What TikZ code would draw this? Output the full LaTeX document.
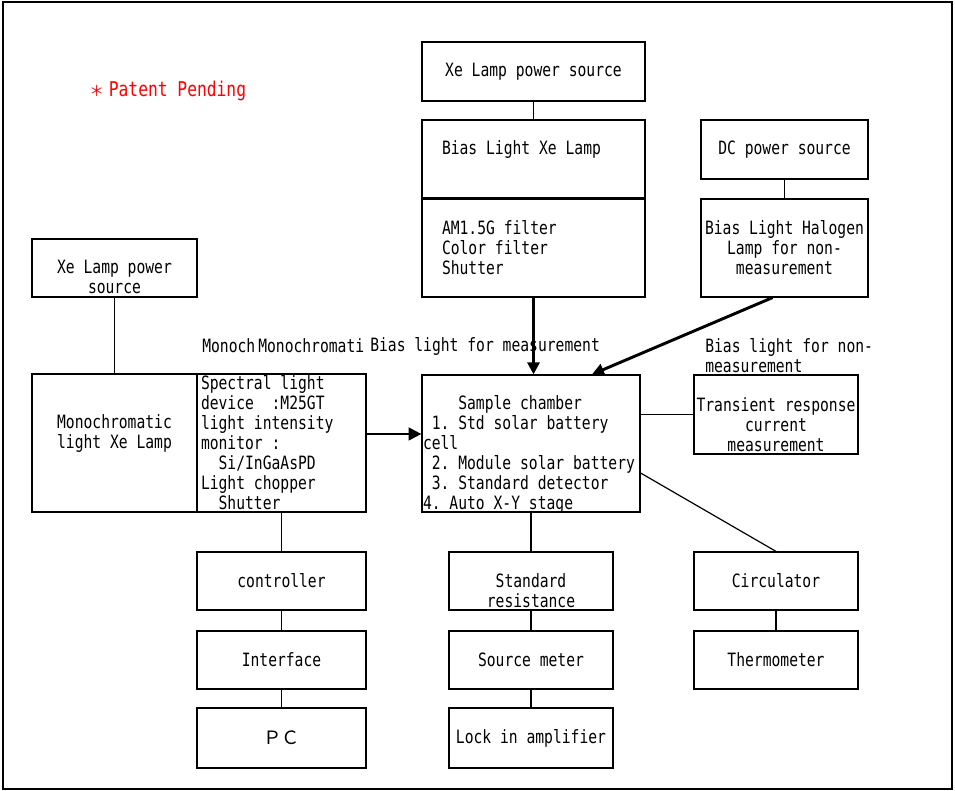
\documentclass[tikz,border=0pt]{standalone}
\usepackage{fontspec}
\setmainfont{DejaVu Sans Mono}[FakeStretch=0.8, WordSpace={1,0,0}]
\newfontfamily\cjk{Noto Sans CJK JP}
\usetikzlibrary{arrows.meta}
\usetikzlibrary{calc}

\begin{document}
\begin{tikzpicture}[x=0.75pt,y=-0.75pt,
  every node/.style={font=\fontsize{13.75pt}{15pt}\selectfont},
  box/.style={draw, line width=0.9pt, inner sep=0pt, align=center},
  wh/.style 2 args={minimum width=#1*0.75pt, minimum height=#2*0.75pt},
  txt/.style={inner sep=0pt, align=center, anchor=center},
  txtl/.style={inner sep=0pt, align=flush left, anchor=center, text width=#1*0.75pt},
  link/.style={line width=0.9pt},
  beam/.style={line width=2.2pt, -{Triangle[length=9pt,width=9pt]}},
  thinbeam/.style={line width=1.5pt, -{Triangle[length=9.5pt,width=9.5pt]}}]
  \useasboundingbox (0,0) rectangle (955,791);
  \draw[line width=1.6pt] (3,2) rectangle (952,789);

  \node[anchor=west, inner sep=0pt, text=red, font=\fontsize{15.26pt}{18pt}\selectfont] (patent) at (89,91) {\makebox[14.7pt][l]{\cjk\fontsize{11pt}{11pt}\selectfont ＊}Patent Pending};

  % bias light column
  \node[box, wh={223}{59}] (xepow) at (533.5,71.5) {Xe Lamp power source};
  \node[box, wh={223}{78}, label={[name=biasxetxt, txtl=183, yshift=6.75pt]center:Bias Light Xe Lamp}] (biasxe) at (533.5,159) {};
  \node[box, wh={223}{98}, align=flush left, text width=183*0.75pt] (filter) at (533.5,248) {AM1.5G filter\\Color filter\\Shutter};
  \node[box, wh={167}{59}] (dcpow) at (784.5,149.5) {DC power source};
  \node[box, wh={167}{98}] (halogen) at (784.5,248) {Bias Light Halogen\\Lamp for non-\\measurement};

  % monochromatic light
  \node[box, wh={165}{58}, label={[name=xepowtxt, txt, yshift=-7pt]center:Xe Lamp power\\source}] (xepow2) at (114.5,268) {};
  \node[box, wh={165}{138}, label={[name=monotxt, txt, yshift=6.75pt]center:Monochromatic\\light Xe Lamp}] (monolamp) at (114.5,443) {};
  \node[box, wh={169}{138}, align=flush left, text width=161*0.75pt] (spectral) at (281.5,443) {Spectral light\\device~~:M25GT\\light intensity\\monitor :\\\phantom{00}Si/InGaAsPD\\Light chopper\\\phantom{00}Shutter};

  % sample chamber
  \node[box, wh={218}{137}, label={[name=chambertxt, txtl=216, yshift=-8.25pt]center:\phantom{0000}Sample chamber\\\phantom{0}1.\phantom{0}Std solar battery\\cell\\\phantom{0}2.\phantom{0}Module solar battery\\\phantom{0}3.\phantom{0}Standard detector\\4.\phantom{0}Auto X-Y stage}] (chamber) at (531,443.5) {};
  \node[box, wh={164}{79}, label={[name=transtxt, txt, yshift=-7.9pt]center:Transient response\\current\\measurement}] (trans) at (776,414.5) {};

  % lower rows
  \node[box, wh={169}{58}] (ctrl) at (281.5,581) {controller};
  \node[box, wh={169}{58}] (iface) at (281.5,660) {Interface};
  \node[box, wh={169}{60}] (pc) at (281.5,738) {{\cjk ＰＣ}};
  \node[box, wh={164}{58}, label={[name=stdrestxt, txt, yshift=-7.5pt]center:Standard\\resistance}] (stdres) at (531,581) {};
  \node[box, wh={164}{58}] (srcmeter) at (531,660) {Source meter};
  \node[box, wh={164}{60}] (lockin) at (531,738) {Lock in amplifier};
  \node[box, wh={164}{58}] (circ) at (776,581) {Circulator};
  \node[box, wh={164}{58}] (thermo) at (776,660) {Thermometer};

  % light labels
  \node[anchor=west, inner sep=0pt] (monoch) at (202,346) {Monoch};
  \node[anchor=west, inner sep=0pt] (monochro) at (258,346) {Monochromati};
  \node[anchor=west, inner sep=0pt] (biasmeas) at (370,346) {Bias light for measurement};
  \node[anchor=west, inner sep=0pt, align=left] (biasnon) at (705,356) {Bias light for non-\\measurement};

  % wiring
  \foreach \a/\b in {xepow/biasxe, dcpow/halogen, xepow2/monolamp, spectral/ctrl, ctrl/iface, iface/pc, chamber/stdres, stdres/srcmeter, srcmeter/lockin, circ/thermo}
    \draw[link] (\a.south) -- (\a.south |- \b.north);
  \draw[link] (trans.west) -- (trans.west -| chamber.east);
  \draw[link] ($(chamber.east)+(0,29.5)$) -- (circ.north);

  % light paths
  \coordinate (monoout) at ($(spectral.east)+(0,-9)$);
  \draw[beam] (filter.south) -- (filter.south |- chamber.north);
  \draw[beam] ($(halogen.south)+(-12,0)$) -- ($(chamber.north)+(61,0)$);
  \draw[thinbeam] (monoout) -- (monoout -| chamber.west);
\end{tikzpicture}
\end{document}
